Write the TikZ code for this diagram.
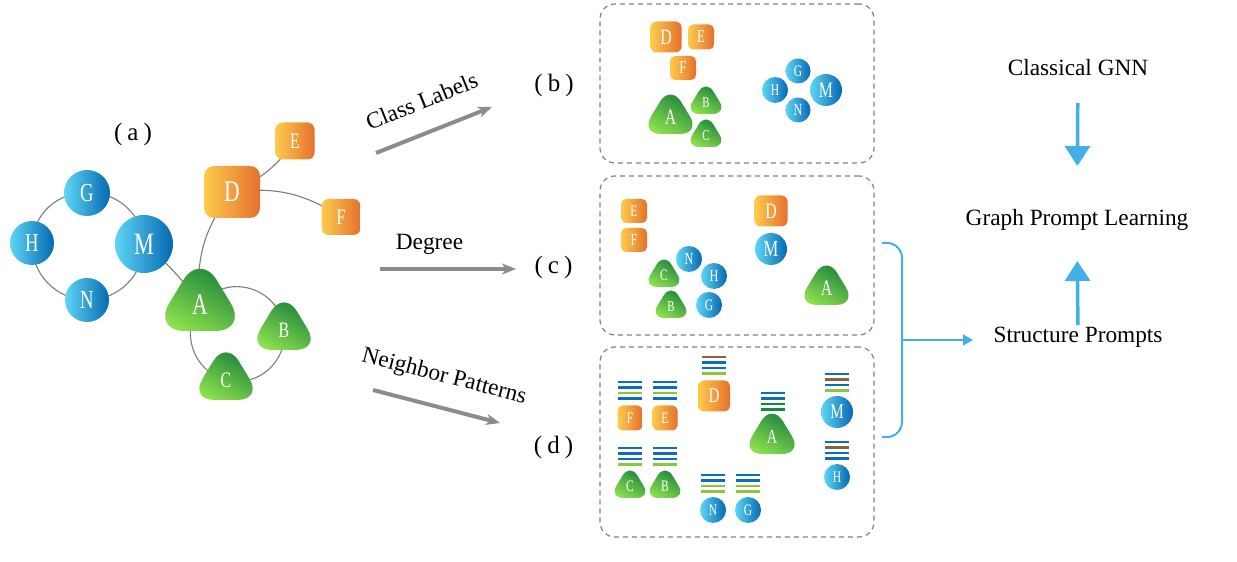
\documentclass[tikz,border=0pt]{standalone}
\usepackage{fontspec}
\setmainfont{Liberation Serif}
\usepackage{graphicx}
\usetikzlibrary{shapes.geometric, arrows.meta, backgrounds}
\definecolor{oy}{RGB}{253,203,76}
\definecolor{oo}{RGB}{229,112,46}
\definecolor{bl}{RGB}{94,214,245}
\definecolor{bd}{RGB}{6,104,178}
\definecolor{gd}{RGB}{8,115,58}
\definecolor{gl}{RGB}{140,224,76}
\definecolor{edgegray}{RGB}{125,125,125}
\definecolor{arrgray}{RGB}{140,140,140}
\definecolor{boxgray}{RGB}{128,128,128}
\definecolor{pblue}{RGB}{66,176,228}
\definecolor{barblue}{RGB}{11,110,185}
\definecolor{barlg}{RGB}{140,198,63}
\definecolor{bardg}{RGB}{16,138,62}
\definecolor{barbr}{RGB}{139,98,57}
\newcommand\cx[1]{\scalebox{0.72}[1]{#1}}
\newcommand\barstack[6]{%
  \foreach \cc [count=\ii] in {#3,#4,#5,#6}
    \draw[barline, draw=\cc] (#1-12,#2-\ii*5.5+5.5) -- ++(24,0);}
\begin{document}
\begin{tikzpicture}[x=1pt,y=1pt,
  fs/.style={font=\fontsize{#1}{#1}\selectfont},
  sq/.style={rectangle, rounded corners=#1, left color=oy, right color=oo, text=white, inner sep=0pt},
  cir/.style={circle, left color=bl, right color=bd, text=white, inner sep=0pt, minimum size=#1},
  tri/.style={circle, text=white, inner sep=0pt, minimum size=#1},
  tshade/.style={top color=gd, bottom color=gl, shading angle=-30},
  edge/.style={draw=edgegray, line width=1.1pt},
  dbox/.style={draw=boxgray, line width=1.2pt, dash pattern=on 5pt off 4pt, rounded corners=15pt,
    minimum width=274, minimum height=159, inner sep=0pt},
  txt/.style={inner sep=0pt, font=\fontsize{23.3}{28}\selectfont},
  plbl/.style={inner sep=0pt, font=\fontsize{25}{30}\selectfont},
  grayarr/.style={draw=arrgray, line width=4pt, -{Stealth[length=14pt,width=11pt,inset=4pt]}},
  bigarr/.style={draw=pblue, line width=3.5pt, -{Triangle[length=20pt,width=25pt]}},
  thinarr/.style={draw=pblue, line width=1.6pt, -{Triangle[length=10pt,width=11pt]}},
  brk/.style={draw=pblue, line width=2pt, rounded corners=15pt},
  barline/.style={line width=2.4pt}
]
\useasboundingbox (0,0) rectangle (1237,562);

% ---------- (a) graph ----------
\node[plbl] (la) at (133,428) {(\kern5pt a\kern5pt)};
\node[cir=46, fs=26] (aG) at (87,369) {\cx{G}};
\node[cir=44, fs=26] (aH) at (32,319) {\cx{H}};
\node[cir=58, fs=31] (aM) at (144,318) {\cx{M}};
\node[cir=44, fs=26] (aN) at (87,262) {\cx{N}};
\node[sq=10, minimum width=56, minimum height=52, fs=30] (aD) at (232,370) {\cx{D}};
\node[sq=7, minimum width=39, minimum height=37, fs=22] (aE) at (295,421) {\cx{E}};
\node[sq=7, minimum width=39, minimum height=36, fs=22] (aF) at (341,345) {\cx{F}};
\node[tri=40, fs=30] (aA) at (200,257.2) {\cx{A}};
\node[tri=30, fs=22] (aB) at (284,232) {\cx{B}};
\node[tri=30, fs=22] (aC) at (226,182) {\cx{C}};

% ---------- arrows with labels ----------
\coordinate (cl1) at (376,409);
\coordinate (cl2) at (492,455);
\draw[grayarr] (cl1) -- (cl2);
\node[txt, rotate=22] (tcl) at (421.7,461) {Class Labels};
\coordinate (dg1) at (380,293);
\coordinate (dg2) at (516,293);
\draw[grayarr] (dg1) -- (dg2);
\node[txt] (tdeg) at (429.5,318) {Degree};
\coordinate (np1) at (373,172);
\coordinate (np2) at (500,139);
\draw[grayarr] (np1) -- (np2);
\node[txt, rotate=-14.5] (tnp) at (444,185) {Neighbor Patterns};

\node[plbl] (lb) at (554,477) {(\kern5pt b\kern5pt)};
\node[plbl] (lc) at (553.5,295) {(\kern5pt c\kern5pt)};
\node[plbl] (ld) at (553.5,115) {(\kern5pt d\kern5pt)};

% ---------- (b) box ----------
\node[dbox] (boxb) at (737,478.5) {};
\node[sq=6, minimum width=31, minimum height=31, fs=22] (bD) at (666,525) {\cx{D}};
\node[sq=5, minimum width=26, minimum height=25, fs=18] (bE) at (701,525) {\cx{E}};
\node[sq=5, minimum width=26, minimum height=24, fs=18] (bF) at (683,494) {\cx{F}};
\node[tri=20, fs=22] (bA) at (670.5,444.6) {\cx{A}};
\node[tri=14, fs=15] (bB) at (706,459.6) {\cx{B}};
\node[tri=14, fs=15] (bC) at (706,426.6) {\cx{C}};
\node[cir=25, fs=16] (bG) at (798,491) {\cx{G}};
\node[cir=26, fs=16] (bH) at (775,472) {\cx{H}};
\node[cir=32, fs=22] (bM) at (826,472) {\cx{M}};
\node[cir=25, fs=17] (bN) at (798,452) {\cx{N}};

% ---------- (c) box ----------
\node[dbox] (boxc) at (737,306.5) {};
\node[sq=5, minimum width=26, minimum height=24, fs=16] (cE) at (634,351) {\cx{E}};
\node[sq=5, minimum width=26, minimum height=24, fs=17] (cF) at (634,322) {\cx{F}};
\node[sq=6, minimum width=33, minimum height=31, fs=22] (cD) at (771,351) {\cx{D}};
\node[cir=32, fs=23] (cM) at (771,313) {\cx{M}};
\node[tri=20, fs=22] (cA) at (826.5,273.6) {\cx{A}};
\node[cir=26, fs=17] (cN) at (689,303) {\cx{N}};
\node[cir=26, fs=17] (cH) at (714,286) {\cx{H}};
\node[cir=26, fs=16] (cG) at (709,257) {\cx{G}};
\node[tri=14, fs=16] (cC) at (664,286.6) {\cx{C}};
\node[tri=14, fs=15] (cB) at (671,255.6) {\cx{B}};

% ---------- (d) box ----------
\node[dbox, minimum height=190] (boxd) at (737,120) {};
\node[sq=5, minimum width=25, minimum height=25, fs=16] (dF) at (630,144) {\cx{F}};
\node[sq=5, minimum width=25, minimum height=25, fs=16] (dE) at (665,144) {\cx{E}};
\node[sq=6, minimum width=32, minimum height=31, fs=21] (dD) at (714,166) {\cx{D}};
\node[tri=20, fs=20] (dA) at (772,124.9) {\cx{A}};
\node[cir=32, fs=21] (dM) at (837,150) {\cx{M}};
\node[cir=26, fs=16] (dH) at (837,85) {\cx{H}};
\node[tri=14, fs=16] (dC) at (630,75.6) {\cx{C}};
\node[tri=14, fs=16] (dB) at (665,75.6) {\cx{B}};
\node[cir=26, fs=16] (dN) at (713,52) {\cx{N}};
\node[cir=26, fs=16] (dG) at (748,52) {\cx{G}};

\barstack{630}{180}{barblue}{barblue}{barlg}{barblue}
\barstack{665}{180}{barblue}{barblue}{barlg}{barblue}
\barstack{714}{205}{barbr}{barblue}{barblue}{barlg}
\barstack{772.5}{169}{barblue}{barblue}{bardg}{bardg}
\barstack{836.5}{188}{barblue}{barbr}{barblue}{barlg}
\barstack{836.5}{120}{barblue}{barbr}{barblue}{barblue}
\barstack{630}{114}{barblue}{barblue}{barblue}{barlg}
\barstack{665}{114}{barblue}{barblue}{barblue}{barlg}
\barstack{713}{87}{barblue}{barblue}{barlg}{barlg}
\barstack{748}{87}{barblue}{barblue}{barlg}{barlg}

% ---------- edges and triangle bodies (behind) ----------
\begin{scope}[on background layer]
\draw[edge] (aG.center) to[bend right=45] (aH.center);
\draw[edge] (aH.center) to[bend right=45] (aN.center);
\draw[edge] (aN.center) to[bend right=45] (aM.center);
\draw[edge] (aM.center) to[bend right=45] (aG.center);
\draw[edge] (aM.center) to[bend left=8] (aA.center);
\draw[edge] (aD.center) to[bend right=22] (aA.center);
\draw[edge] (aD.center) to[bend right=15] (aE.center);
\draw[edge] (aD.center) to[bend left=20] (aF.center);
\draw[edge] (aA.center) to[bend left=69, looseness=1.25] (aB.center);
\draw[edge] (aB.center) to[bend left=55, looseness=1.08] (aC.center);
\draw[edge] (aC.center) to[bend left=56, looseness=1.09] (aA.center);
\foreach \t/\w in {aA/68, aB/52, aC/52, bA/43, bB/30, bC/30,
                   cA/43, cB/30, cC/30, dA/44, dB/30, dC/30} {
  \pgfmathsetmacro\bb{\w/0.715}
  \pgfmathsetmacro\hh{0.825*\bb}
  \shade[tshade, rounded corners=0.34*\bb]
    ([yshift=2*\hh/3]\t.center) -- ([shift={(-\bb/2,-\hh/3)}]\t.center)
    -- ([shift={(\bb/2,-\hh/3)}]\t.center) -- cycle;
}
\end{scope}

% ---------- right part ----------
\node[txt] (cg) at (1078,494) {Classical GNN};
\node[txt] (gpl) at (1077,342) {Graph Prompt Learning};
\node[txt] (sp) at (1078,225) {Structure Prompts};
\draw[bigarr, shorten <=35pt, shorten >=54pt] (cg.center) -- (gpl.center);
\draw[bigarr, shorten <=12pt, shorten >=41pt] (sp.center) -- (gpl.center);
\draw[brk] (882,319) -- (902,319) -- (902,125) -- (882,125);
\coordinate (bm) at (902,222);
\coordinate (bt) at (973,222);
\draw[thinarr] (bm) -- (bt);
\end{tikzpicture}
\end{document}
